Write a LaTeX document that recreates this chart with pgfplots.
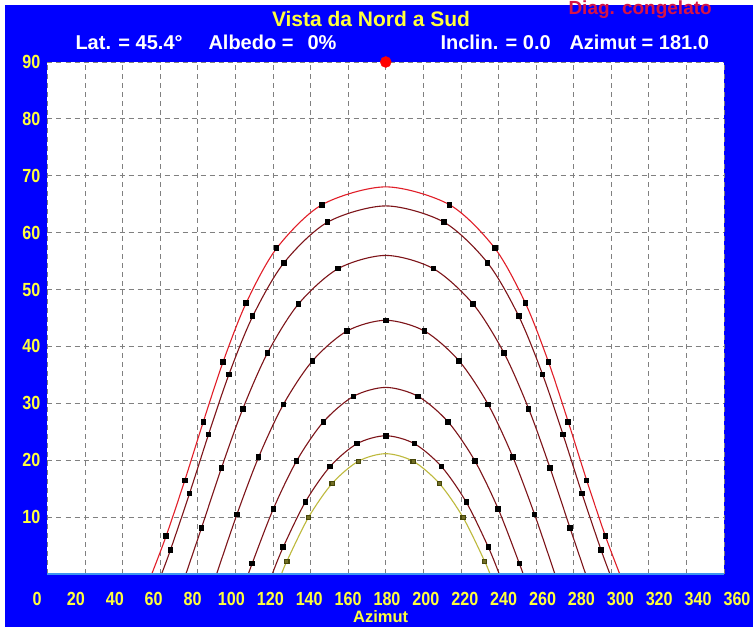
\documentclass[border=0pt]{standalone}
\usepackage{fontspec}
\setmainfont{Liberation Sans}
\newfontfamily\condfont[FakeStretch=0.85]{Liberation Sans}
\usepackage{pgfplots}
\pgfplotsset{compat=1.18}
\definecolor{bgblue}{RGB}{0,0,255}
\definecolor{tickyellow}{RGB}{255,255,60}
\definecolor{curvered}{RGB}{225,30,40}
\definecolor{maroonc}{RGB}{125,20,25}
\definecolor{olivel}{RGB}{190,185,60}
\definecolor{oliveD}{RGB}{70,70,10}
\definecolor{diagred}{RGB}{215,20,70}
\definecolor{gridgray}{RGB}{128,128,128}
\definecolor{baseblue}{RGB}{60,150,240}
\begin{document}
\begin{tikzpicture}[x=1bp,y=1bp]
\useasboundingbox (-47.5,-53) rectangle (705.5,574);
\clip (-47.5,-53) rectangle (705.5,574);
\fill[white] (-47.5,-53) rectangle (705.5,574);
\fill[bgblue] (-42,-53) rectangle (705.5,569);

\begin{axis}[at={(0,0)}, anchor=south west, scale only axis,
  width=676.5bp, height=512bp,
  xmin=0, xmax=360, ymin=0, ymax=90,
  axis background/.style={fill=white},
  axis line style={draw=none},
  xtick={0,20,...,360}, ytick={10,20,...,90},
  xticklabels={}, tick style={draw=none},
  /pgf/number format/assume math mode=true,
  grid=major,
  major grid style={gridgray, line width=0.8bp, dash pattern=on 5bp off 4bp},
  yticklabel style={font=\condfont\bfseries\fontsize{19bp}{20bp}\selectfont, text=tickyellow, inner sep=0pt, anchor=east, xshift=-7bp},
  clip=false,
  after end axis/.code={\draw[baseblue, line width=2.5bp] (rel axis cs:0,0) -- (rel axis cs:1,0);}
]
% December
\addplot[olivel, line width=1.1bp, smooth, mark=square*, mark size=2.2bp,
  mark options={fill=olivel!60!black, draw=oliveD, solid},
  mark indices={2,3,4,5,7,8,9,10}] coordinates {
(124.53,0) (127.34,2.22) (138.81,9.91) (151.51,15.93) (165.38,19.81) (180,21.15) (194.62,19.81) (208.49,15.93) (221.19,9.91) (232.66,2.22) (235.47,0)};
% Jan/Nov
\addplot[maroonc, line width=1.1bp, smooth, mark=square*, mark size=2.2bp,
  mark options={fill=black, draw=black, solid},
  mark indices={2,3,4,5,6,7,8,9,10}] coordinates {
(119.61,0) (125.42,4.72) (137.16,12.63) (150.29,18.86) (164.72,22.90) (180,24.3) (195.28,22.90) (209.71,18.86) (222.84,12.63) (234.58,4.72) (240.39,0)};
% Feb/Oct
\addplot[maroonc, line width=1.1bp, smooth, mark=square*, mark size=2.2bp,
  mark options={fill=black, draw=black, solid},
  mark indices={2,3,4,5,6,8,9,10,11,12}] coordinates {
(106.93,0) (108.91,1.85) (120.14,11.42) (132.60,19.90) (146.77,26.72) (162.77,31.22) (180,32.8) (197.23,31.22) (213.23,26.72) (227.40,19.90) (239.86,11.42) (251.09,1.85) (253.07,0)};
% Mar/Sep
\addplot[maroonc, line width=1.1bp, smooth, mark=square*, mark size=2.2bp,
  mark options={fill=black, draw=black, solid},
  mark indices={2,3,4,5,6,7,8,9,10,11,12}] coordinates {
(90,0) (100.80,10.47) (112.35,20.55) (125.46,29.77) (140.96,37.45) (159.38,42.71) (180,44.6) (200.62,42.71) (219.04,37.45) (234.54,29.77) (247.65,20.55) (259.20,10.47) (270,0)};
% Apr/Aug
\addplot[maroonc, line width=1.1bp, smooth, mark=square*, mark size=2.2bp,
  mark options={fill=black, draw=black, solid},
  mark indices={2,3,4,5,6,7,9,10,11,12,13,14}] coordinates {
(73.65,0) (81.94,8.09) (92.53,18.60) (103.91,29.01) (117.10,38.86) (133.54,47.46) (154.65,53.67) (180,56.0) (205.35,53.67) (226.46,47.46) (242.90,38.86) (256.09,29.01) (267.47,18.60) (278.06,8.09) (286.35,0)};
% May/Jul
\addplot[maroonc, line width=1.1bp, smooth, mark=square*, mark size=2.2bp,
  mark options={fill=black, draw=black, solid},
  mark indices={2,3,4,5,6,7,8,10,11,12,13,14,15,16}] coordinates {
(60.70,0) (65.45,4.25) (75.59,14.16) (85.70,24.54) (96.53,35.06) (109.22,45.31) (125.73,54.66) (149.01,61.84) (180,64.7) (210.99,61.84) (234.27,54.66) (250.78,45.31) (263.47,35.06) (274.30,24.54) (284.41,14.16) (294.55,4.25) (299.30,0)};
% June
\addplot[curvered, line width=1.1bp, smooth, mark=square*, mark size=2.2bp,
  mark options={fill=black, draw=black, solid},
  mark indices={2,3,4,5,6,7,8,10,11,12,13,14,15,16}] coordinates {
(55.47,0) (63.16,6.70) (73.06,16.46) (82.90,26.75) (93.40,37.26) (105.71,47.63) (121.97,57.27) (146.0,64.9) (180,68.05) (214.0,64.9) (238.03,57.27) (254.29,47.63) (266.60,37.26) (277.10,26.75) (286.94,16.46) (296.84,6.70) (304.53,0)};
% sun position
\addplot[only marks, mark=*, mark size=5.5bp, red] coordinates {(180,90)};
\end{axis}

\begin{axis}[at={(-10.5bp,0)}, anchor=south west, scale only axis,
  width=700bp, height=512bp,
  xmin=0, xmax=360, ymin=0, ymax=90,
  axis line style={draw=none}, tick style={draw=none},
  /pgf/number format/assume math mode=true,
  ytick=\empty, xtick={0,20,...,360},
  xticklabel style={font=\condfont\bfseries\fontsize{19bp}{20bp}\selectfont, text=tickyellow, inner sep=0pt, anchor=north, yshift=-18bp},
  xlabel={Azimut},
  xlabel style={at={(axis description cs:0.491,0)}, anchor=north, inner sep=0pt, yshift=-36bp, text=tickyellow, font=\bfseries\fontsize{16.5bp}{18bp}\selectfont}
]
\end{axis}

\node[anchor=base, text=tickyellow, font=\bfseries\fontsize{21bp}{22bp}\selectfont] at (323.5,547) {Vista da Nord a Sud};
\node[anchor=base west, text=white, font=\bfseries\fontsize{20bp}{22bp}\selectfont] at (24.5,524) {Lat. = 45.4°};
\node[anchor=base west, text=white, font=\bfseries\fontsize{20bp}{22bp}\selectfont] at (157.5,524) {Albedo =};
\node[anchor=base west, text=white, font=\bfseries\fontsize{20bp}{22bp}\selectfont] at (256.5,524) {0\%};
\node[anchor=base west, text=white, font=\bfseries\fontsize{20bp}{22bp}\selectfont] at (389.5,524) {Inclin. = 0.0};
\node[anchor=base west, text=white, font=\bfseries\fontsize{20bp}{22bp}\selectfont] at (518.5,524) {Azimut = 181.0};
\node[anchor=base west, text=diagred, font=\bfseries\fontsize{19bp}{20bp}\selectfont] at (517.5,559) {Diag. congelato};
\end{tikzpicture}
\end{document}
